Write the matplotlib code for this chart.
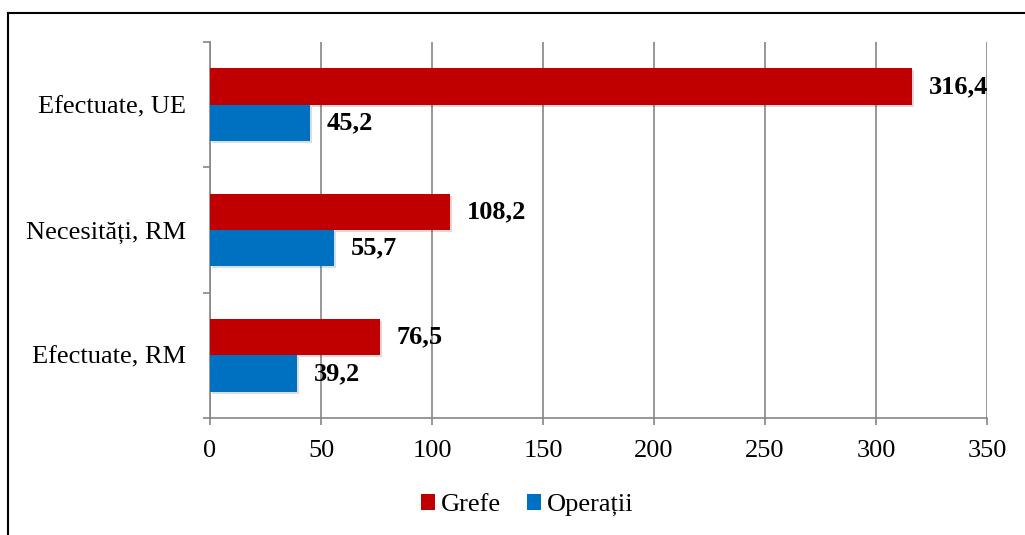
import matplotlib.pyplot as plt
import matplotlib.patheffects as pe
from matplotlib.lines import Line2D
from matplotlib.patches import Patch
import numpy as np

# data (bottom to top as drawn)
categories = ['Efectuate, RM', 'Necesități, RM', 'Efectuate, UE']
grefe = [76.5, 108.2, 316.4]
operatii = [39.2, 55.7, 45.2]
series_names = ['Grefe', 'Operații']
colors = ['#C00000', '#0070C0']

plt.rcParams['font.family'] = ['Liberation Serif', 'DejaVu Serif']

fig = plt.figure(figsize=(10.25, 5.35), dpi=100)
ax = fig.add_axes([210 / 1025, 117 / 535, 777 / 1025, 376 / 535])

y = np.arange(len(categories))
h = 0.29
shadow = [pe.SimplePatchShadow(offset=(1.5, -1.5), alpha=0.15), pe.Normal()]

bars_g = ax.barh(y + h / 2, grefe, height=h, color=colors[0], zorder=3)
bars_o = ax.barh(y - h / 2, operatii, height=h, color=colors[1], zorder=3)
for b in list(bars_g) + list(bars_o):
    b.set_path_effects(shadow)

# value labels
for bars, vals in [(bars_g, grefe), (bars_o, operatii)]:
    for b, v in zip(bars, vals):
        ax.annotate(f"{v:.1f}".replace('.', ','),
                    (v, b.get_y() + b.get_height() / 2),
                    xytext=(12, 0), textcoords='offset points',
                    ha='left', va='center', fontsize=19, fontweight='bold', zorder=4)

ax.set_xlim(0, 350)
ax.set_ylim(-0.5, 2.5)
ax.set_xticks(np.arange(0, 351, 50))
ax.set_yticks(y)
ax.set_yticklabels(categories)
ax.set_yticks(np.arange(-0.5, 2.6, 1), minor=True)

gray = '#868686'
ax.grid(axis='x', color=gray, linewidth=1.2, zorder=0)
for s in ['top', 'right']:
    ax.spines[s].set_visible(False)
for s in ['left', 'bottom']:
    ax.spines[s].set_color(gray)
    ax.spines[s].set_linewidth(1.2)

ax.tick_params(axis='x', direction='out', length=5, width=1.2, color=gray, pad=11, labelsize=19)
ax.tick_params(axis='y', which='major', length=0, pad=17, labelsize=19)
ax.tick_params(axis='y', which='minor', direction='out', length=5, width=1.2, color=gray)

# legend
handles = [Patch(facecolor=c, edgecolor='none') for c in colors]
fig.legend(handles, series_names, loc='center', bbox_to_anchor=(527 / 1025, 30 / 535), ncol=2,
           frameon=False, prop={'family': ['Liberation Serif', 'DejaVu Serif'], 'size': 19},
           handlelength=0.55, handleheight=0.55, handletextpad=0.2, columnspacing=1.0)

# outer frame (left and top edges)
fig.add_artist(Line2D([8 / 1025, 8 / 1025], [0, 522 / 535], color='black', linewidth=1.5,
                      transform=fig.transFigure))
fig.add_artist(Line2D([8 / 1025, 1], [522 / 535, 522 / 535], color='black', linewidth=1.5,
                      transform=fig.transFigure))

fig.savefig('out.png', dpi=100)
